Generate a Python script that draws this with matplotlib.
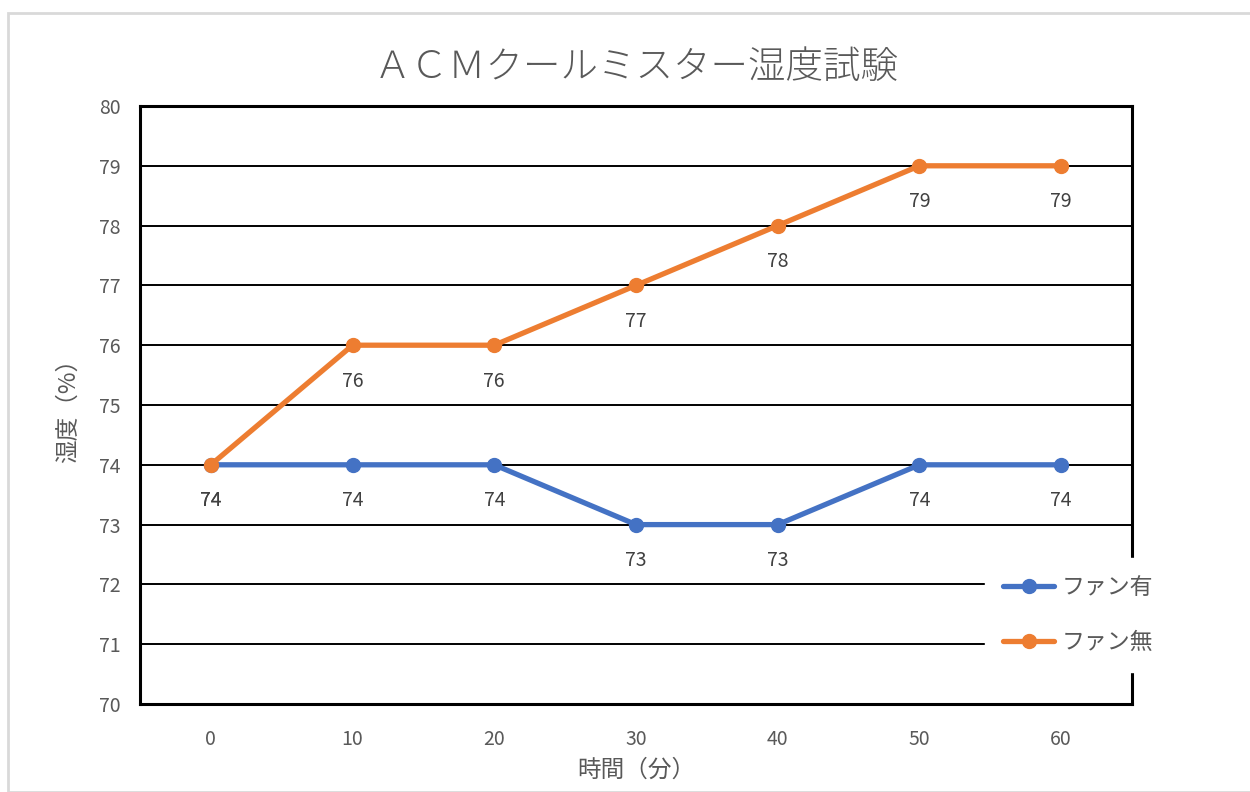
import matplotlib
matplotlib.use('Agg')
import matplotlib.pyplot as plt
from matplotlib.patches import Rectangle

plt.rcParams['font.family'] = ['Noto Sans CJK JP', 'DejaVu Sans']

times = ['0', '10', '20', '30', '40', '50', '60']
fan_on = [74, 74, 74, 73, 73, 74, 74]
fan_off = [74, 76, 76, 77, 78, 79, 79]

c_on = '#4472c4'
c_off = '#ed7d31'
txt = '#595959'

fig = plt.figure(figsize=(12.5, 7.92), dpi=100)
fig.patches.append(Rectangle((8/1250, 0), 1.2, 1 - 13/792, transform=fig.transFigure,
                             fill=False, edgecolor='#d9d9d9', linewidth=2))
ax = fig.add_axes([140/1250, 1 - 704/792, 992/1250, 598/792])

x = list(range(len(times)))
ax.plot(x, fan_on, color=c_on, lw=3.8, marker='o', ms=10, label='ファン有', zorder=4,
        solid_capstyle='round')
ax.plot(x, fan_off, color=c_off, lw=3.8, marker='o', ms=10, label='ファン無', zorder=5,
        solid_capstyle='round')

for xi, v in zip(x, fan_on):
    ax.annotate(str(v), (xi, v), xytext=(0, -26), textcoords='offset points',
                ha='center', va='center', fontsize=14, color='#404040')
for xi, v in zip(x, fan_off):
    ax.annotate(str(v), (xi, v), xytext=(0, -26), textcoords='offset points',
                ha='center', va='center', fontsize=14, color='#404040')

ax.set_xlim(-0.5, 6.5)
ax.set_ylim(70, 80)
ax.set_xticks(x)
ax.set_xticklabels(times)
ax.set_yticks(range(70, 81))
ax.tick_params(length=0, labelsize=14, colors=txt)
ax.tick_params(axis='x', pad=18)
ax.tick_params(axis='y', pad=14)
ax.grid(axis='y', color='black', lw=1.4, zorder=1)
for s in ax.spines.values():
    s.set_color('black')
    s.set_linewidth(2.2)

ax.set_title('ＡＣＭクールミスター湿度試験', fontsize=27, color=txt, pad=20,
             fontweight='light')
ax.set_xlabel('時間（分）', fontsize=17, color=txt, labelpad=6)
ax.set_ylabel('湿度（%）', fontsize=17, color=txt, labelpad=14)

leg = ax.legend(loc='center left', bbox_to_anchor=(985/1250, 1 - 615/792),
                bbox_transform=fig.transFigure, borderaxespad=0, frameon=True,
                fancybox=False, facecolor='white', edgecolor='white', framealpha=1,
                fontsize=16.5, handlelength=2.2, labelspacing=1.4, borderpad=0.8,
                handletextpad=0.35)
for t in leg.get_texts():
    t.set_color(txt)
leg.set_zorder(10)

fig.savefig('out.png', dpi=100)
